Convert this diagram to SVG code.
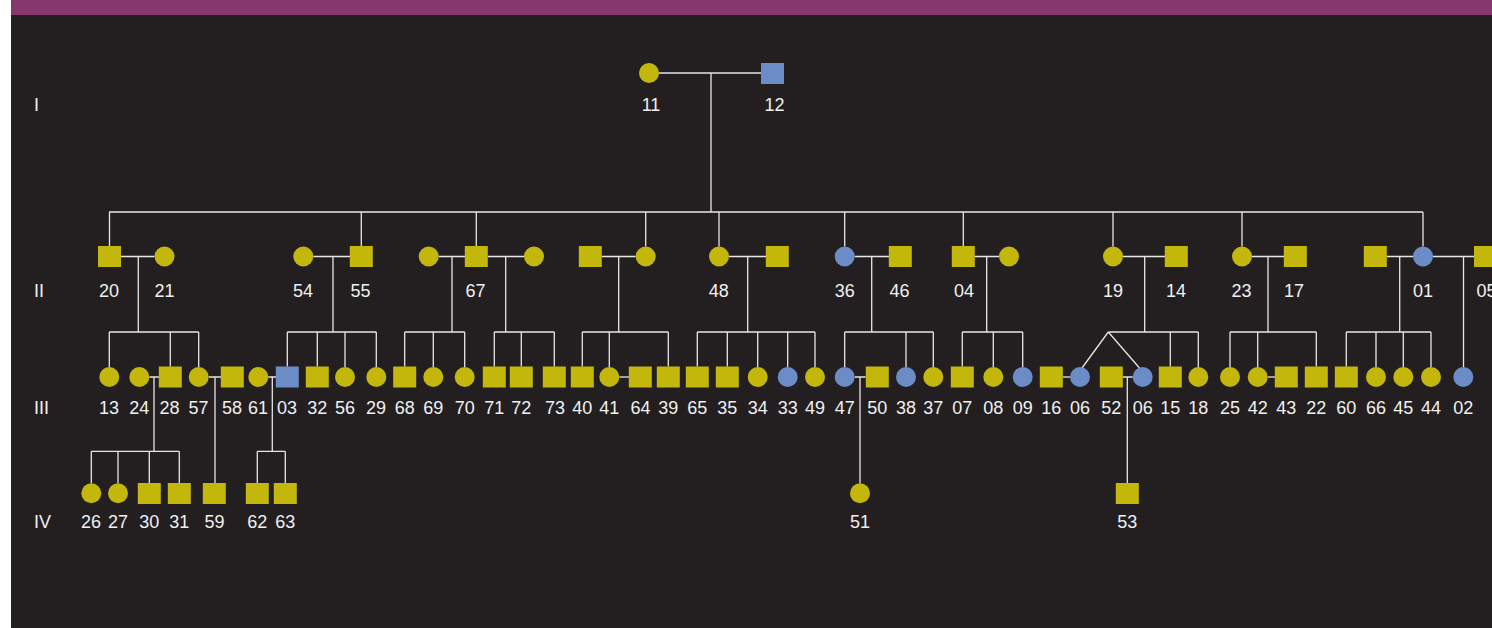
<svg xmlns="http://www.w3.org/2000/svg" width="1492" height="628" viewBox="0 0 1492 628">
<style>
.y{fill:#c4b70b}
.b{fill:#6b8cc7}
.ln{stroke:#e6e6e6;stroke-width:1.3;fill:none}
.t{font-family:"Liberation Sans",Arial,sans-serif;font-size:18px;fill:#f0f0f0;text-anchor:middle}
.g{font-family:"Liberation Sans",Arial,sans-serif;font-size:18px;fill:#f0f0f0;text-anchor:start}
</style>
<rect x="0" y="0" width="1492" height="628" fill="#ffffff"/>
<rect x="11" y="0" width="1481" height="628" fill="#231f20"/>
<rect x="11" y="0" width="1481" height="15" fill="#85386e"/>

<g id="generation-labels">
<text class="g" x="34" y="111">I</text>
<text class="g" x="34" y="297">II</text>
<text class="g" x="34" y="414">III</text>
<text class="g" x="34" y="528">IV</text>
</g>

<g id="connectors" class="ln">
<!-- generation I -->
<path d="M659 73H761M711 73V212M109 212H1423"/>
<path d="M109.5 212V246M361.3 212V246M476.3 212V246M645.7 212V246.5M719 212V246.5M844.7 212V246.5M963.3 212V246M1113 212V246.5M1242 212V246.5M1423 212V246.5"/>
<!-- generation II couples and descents -->
<path d="M121 256.5H154.5M138.3 256.5V332"/>
<path d="M313.3 256.5H350M333 256.5V332"/>
<path d="M438.7 256.5H465M452 256.5V332"/>
<path d="M487.7 256.5H524M505.7 256.5V332"/>
<path d="M601.7 256.5H635.7M618.7 256.5V332"/>
<path d="M729 256.5H766M747.7 256.5V332"/>
<path d="M854.7 256.5H889M871.7 256.5V332"/>
<path d="M974.7 256.5H999M986.7 256.5V332"/>
<path d="M1123 256.5H1165M1144.7 256.5V332"/>
<path d="M1252 256.5H1284M1268 256.5V332"/>
<path d="M1386.7 256.5H1413M1399.7 256.5V332"/>
<path d="M1433 256.5H1474M1463.5 256.5V367"/>
<!-- generation III sibships -->
<path d="M109.3 332H198.7M109.3 332V367M170.3 332V366.5M198.7 332V367"/>
<path d="M287.3 332H376.3M287.3 332V366.5M317.3 332V366.5M345 332V367M376.3 332V367"/>
<path d="M404.7 332H464.7M404.7 332V366.5M433.3 332V367M464.7 332V367"/>
<path d="M494.3 332H554.3M494.3 332V366.5M521.3 332V366.5M554.3 332V366.5"/>
<path d="M582.3 332H668.3M582.3 332V366.5M609.3 332V367M668.3 332V366.5"/>
<path d="M697.3 332H815M697.3 332V366.5M727.3 332V366.5M757.7 332V367M787.7 332V367M815 332V367"/>
<path d="M844.7 332H933.3M844.7 332V367M906 332V367M933.3 332V367"/>
<path d="M962.3 332H1022.7M962.3 332V366.5M993.3 332V367M1022.7 332V367"/>
<path d="M1108.3 332H1198.3M1170.3 332V366.5M1198.3 332V367M1108.3 332L1082 368M1108.3 332L1139.5 368"/>
<path d="M1230 332H1316.3M1230 332V367M1257.7 332V367M1316.3 332V366.5"/>
<path d="M1346.3 332H1431M1346.3 332V366.5M1376 332V367M1403.3 332V367M1431 332V367"/>
<!-- generation III couples -->
<path d="M149.3 377H159M154 377V451.3"/>
<path d="M208.7 377H221M215 377V483"/>
<path d="M268.3 377H276M272.3 377V451.3"/>
<path d="M619.3 377H629"/>
<path d="M854.7 377H865.7M860 377V483.3"/>
<path d="M1062.7 377H1070"/>
<path d="M1122.7 377H1132.7M1127.3 377V483"/>
<path d="M1267.7 377H1275"/>
<!-- generation IV sibships -->
<path d="M91.3 451.3H179.3M91.3 451.3V483.3M118 451.3V483.3M149.3 451.3V483M179.3 451.3V483"/>
<path d="M257.3 451.3H285.3M257.3 451.3V483M285.3 451.3V483"/>
</g>

<!-- Generation I -->
<g id="n11"><circle class="y" cx="649" cy="73" r="10"/><text class="t" x="651" y="111">11</text></g>
<g id="n12"><rect class="b" x="761" y="63" width="23" height="21"/><text class="t" x="774.5" y="111">12</text></g>

<!-- Generation II -->
<g id="n20"><rect class="y" x="98" y="246" width="23" height="21"/><text class="t" x="109" y="297">20</text></g>
<g id="n21"><circle class="y" cx="164.5" cy="256.5" r="10"/><text class="t" x="164.5" y="297">21</text></g>
<g id="n54"><circle class="y" cx="303.3" cy="256.5" r="10"/><text class="t" x="303" y="297">54</text></g>
<g id="n55"><rect class="y" x="349.8" y="246" width="23" height="21"/><text class="t" x="360.5" y="297">55</text></g>
<g id="n67-wife1"><circle class="y" cx="428.7" cy="256.5" r="10"/></g>
<g id="n67"><rect class="y" x="464.8" y="246" width="23" height="21"/><text class="t" x="475.5" y="297">67</text></g>
<g id="n67-wife2"><circle class="y" cx="534" cy="256.5" r="10"/></g>
<g id="nII-husband1"><rect class="y" x="578.8" y="246" width="23" height="21"/></g>
<g id="nII-daughter1"><circle class="y" cx="645.7" cy="256.5" r="10"/></g>
<g id="n48"><circle class="y" cx="719" cy="256.5" r="10"/><text class="t" x="718.7" y="297">48</text></g>
<g id="n48-husband"><rect class="y" x="765.8" y="246" width="23" height="21"/></g>
<g id="n36"><circle class="b" cx="844.7" cy="256.5" r="10"/><text class="t" x="844.7" y="297">36</text></g>
<g id="n46"><rect class="y" x="888.8" y="246" width="23" height="21"/><text class="t" x="899.5" y="297">46</text></g>
<g id="n04"><rect class="y" x="951.8" y="246" width="23" height="21"/><text class="t" x="964" y="297">04</text></g>
<g id="n04-wife"><circle class="y" cx="1009" cy="256.5" r="10"/></g>
<g id="n19"><circle class="y" cx="1113" cy="256.5" r="10"/><text class="t" x="1113" y="297">19</text></g>
<g id="n14"><rect class="y" x="1164.8" y="246" width="23" height="21"/><text class="t" x="1176" y="297">14</text></g>
<g id="n23"><circle class="y" cx="1242" cy="256.5" r="10"/><text class="t" x="1241.5" y="297">23</text></g>
<g id="n17"><rect class="y" x="1283.8" y="246" width="23" height="21"/><text class="t" x="1294" y="297">17</text></g>
<g id="n01-husband1"><rect class="y" x="1363.8" y="246" width="23" height="21"/></g>
<g id="n01"><circle class="b" cx="1423" cy="256.5" r="10"/><text class="t" x="1423" y="297">01</text></g>
<g id="n05"><rect class="y" x="1474" y="246" width="23" height="21"/><text class="t" x="1486.5" y="297">05</text></g>

<!-- Generation III -->
<g id="n13"><circle class="y" cx="109.3" cy="377" r="10"/><text class="t" x="109" y="414">13</text></g>
<g id="n24"><circle class="y" cx="139.3" cy="377" r="10"/><text class="t" x="139.3" y="414">24</text></g>
<g id="n28"><rect class="y" x="158.8" y="366.5" width="23" height="21"/><text class="t" x="169.5" y="414">28</text></g>
<g id="n57"><circle class="y" cx="198.7" cy="377" r="10"/><text class="t" x="198.6" y="414">57</text></g>
<g id="n58"><rect class="y" x="220.8" y="366.5" width="23" height="21"/><text class="t" x="232" y="414">58</text></g>
<g id="n61"><circle class="y" cx="258.3" cy="377" r="10"/><text class="t" x="258" y="414">61</text></g>
<g id="n03"><rect class="b" x="275.8" y="366.5" width="23" height="21"/><text class="t" x="287" y="414">03</text></g>
<g id="n32"><rect class="y" x="305.8" y="366.5" width="23" height="21"/><text class="t" x="317.3" y="414">32</text></g>
<g id="n56"><circle class="y" cx="345" cy="377" r="10"/><text class="t" x="345" y="414">56</text></g>
<g id="n29"><circle class="y" cx="376.3" cy="377" r="10"/><text class="t" x="376" y="414">29</text></g>
<g id="n68"><rect class="y" x="393.2" y="366.5" width="23" height="21"/><text class="t" x="404.7" y="414">68</text></g>
<g id="n69"><circle class="y" cx="433.3" cy="377" r="10"/><text class="t" x="433.3" y="414">69</text></g>
<g id="n70"><circle class="y" cx="464.7" cy="377" r="10"/><text class="t" x="464.7" y="414">70</text></g>
<g id="n71"><rect class="y" x="482.8" y="366.5" width="23" height="21"/><text class="t" x="494.3" y="414">71</text></g>
<g id="n72"><rect class="y" x="509.8" y="366.5" width="23" height="21"/><text class="t" x="521.3" y="414">72</text></g>
<g id="n73"><rect class="y" x="542.8" y="366.5" width="23" height="21"/><text class="t" x="555" y="414">73</text></g>
<g id="n40"><rect class="y" x="570.8" y="366.5" width="23" height="21"/><text class="t" x="582.3" y="414">40</text></g>
<g id="n41"><circle class="y" cx="609.3" cy="377" r="10"/><text class="t" x="609.3" y="414">41</text></g>
<g id="n64"><rect class="y" x="628.8" y="366.5" width="23" height="21"/><text class="t" x="640.5" y="414">64</text></g>
<g id="n39"><rect class="y" x="656.8" y="366.5" width="23" height="21"/><text class="t" x="668.3" y="414">39</text></g>
<g id="n65"><rect class="y" x="685.8" y="366.5" width="23" height="21"/><text class="t" x="697.3" y="414">65</text></g>
<g id="n35"><rect class="y" x="715.8" y="366.5" width="23" height="21"/><text class="t" x="727.3" y="414">35</text></g>
<g id="n34"><circle class="y" cx="757.7" cy="377" r="10"/><text class="t" x="757.7" y="414">34</text></g>
<g id="n33"><circle class="b" cx="787.7" cy="377" r="10"/><text class="t" x="787.7" y="414">33</text></g>
<g id="n49"><circle class="y" cx="815" cy="377" r="10"/><text class="t" x="815" y="414">49</text></g>
<g id="n47"><circle class="b" cx="844.7" cy="377" r="10"/><text class="t" x="844.7" y="414">47</text></g>
<g id="n50"><rect class="y" x="865.8" y="366.5" width="23" height="21"/><text class="t" x="877.3" y="414">50</text></g>
<g id="n38"><circle class="b" cx="906" cy="377" r="10"/><text class="t" x="906" y="414">38</text></g>
<g id="n37"><circle class="y" cx="933.3" cy="377" r="10"/><text class="t" x="933.3" y="414">37</text></g>
<g id="n07"><rect class="y" x="950.8" y="366.5" width="23" height="21"/><text class="t" x="962.3" y="414">07</text></g>
<g id="n08"><circle class="y" cx="993.3" cy="377" r="10"/><text class="t" x="993.3" y="414">08</text></g>
<g id="n09"><circle class="b" cx="1022.7" cy="377" r="10"/><text class="t" x="1022.7" y="414">09</text></g>
<g id="n16"><rect class="y" x="1039.8" y="366.5" width="23" height="21"/><text class="t" x="1051.3" y="414">16</text></g>
<g id="n06a"><circle class="b" cx="1080" cy="377" r="10"/><text class="t" x="1080" y="414">06</text></g>
<g id="n52"><rect class="y" x="1099.8" y="366.5" width="23" height="21"/><text class="t" x="1111.3" y="414">52</text></g>
<g id="n06b"><circle class="b" cx="1142.7" cy="377" r="10"/><text class="t" x="1142.7" y="414">06</text></g>
<g id="n15"><rect class="y" x="1158.8" y="366.5" width="23" height="21"/><text class="t" x="1170.3" y="414">15</text></g>
<g id="n18"><circle class="y" cx="1198.3" cy="377" r="10"/><text class="t" x="1198.3" y="414">18</text></g>
<g id="n25"><circle class="y" cx="1230" cy="377" r="10"/><text class="t" x="1230" y="414">25</text></g>
<g id="n42"><circle class="y" cx="1257.7" cy="377" r="10"/><text class="t" x="1257.7" y="414">42</text></g>
<g id="n43"><rect class="y" x="1274.8" y="366.5" width="23" height="21"/><text class="t" x="1286.3" y="414">43</text></g>
<g id="n22"><rect class="y" x="1304.8" y="366.5" width="23" height="21"/><text class="t" x="1316.3" y="414">22</text></g>
<g id="n60"><rect class="y" x="1334.8" y="366.5" width="23" height="21"/><text class="t" x="1346.3" y="414">60</text></g>
<g id="n66"><circle class="y" cx="1376" cy="377" r="10"/><text class="t" x="1376" y="414">66</text></g>
<g id="n45"><circle class="y" cx="1403.3" cy="377" r="10"/><text class="t" x="1403.3" y="414">45</text></g>
<g id="n44"><circle class="y" cx="1431" cy="377" r="10"/><text class="t" x="1431" y="414">44</text></g>
<g id="n02"><circle class="b" cx="1463.3" cy="377" r="10"/><text class="t" x="1463.3" y="414">02</text></g>

<!-- Generation IV -->
<g id="n26"><circle class="y" cx="91.3" cy="493.3" r="10"/><text class="t" x="91" y="528">26</text></g>
<g id="n27"><circle class="y" cx="118" cy="493.3" r="10"/><text class="t" x="118" y="528">27</text></g>
<g id="n30"><rect class="y" x="137.8" y="483" width="23" height="21"/><text class="t" x="149.3" y="528">30</text></g>
<g id="n31"><rect class="y" x="167.8" y="483" width="23" height="21"/><text class="t" x="179.3" y="528">31</text></g>
<g id="n59"><rect class="y" x="202.8" y="483" width="23" height="21"/><text class="t" x="214.5" y="528">59</text></g>
<g id="n62"><rect class="y" x="245.8" y="483" width="23" height="21"/><text class="t" x="257.3" y="528">62</text></g>
<g id="n63"><rect class="y" x="273.8" y="483" width="23" height="21"/><text class="t" x="285.3" y="528">63</text></g>
<g id="n51"><circle class="y" cx="860" cy="493.3" r="10"/><text class="t" x="860" y="528">51</text></g>
<g id="n53"><rect class="y" x="1115.8" y="483" width="23" height="21"/><text class="t" x="1127.3" y="528">53</text></g>
</svg>
